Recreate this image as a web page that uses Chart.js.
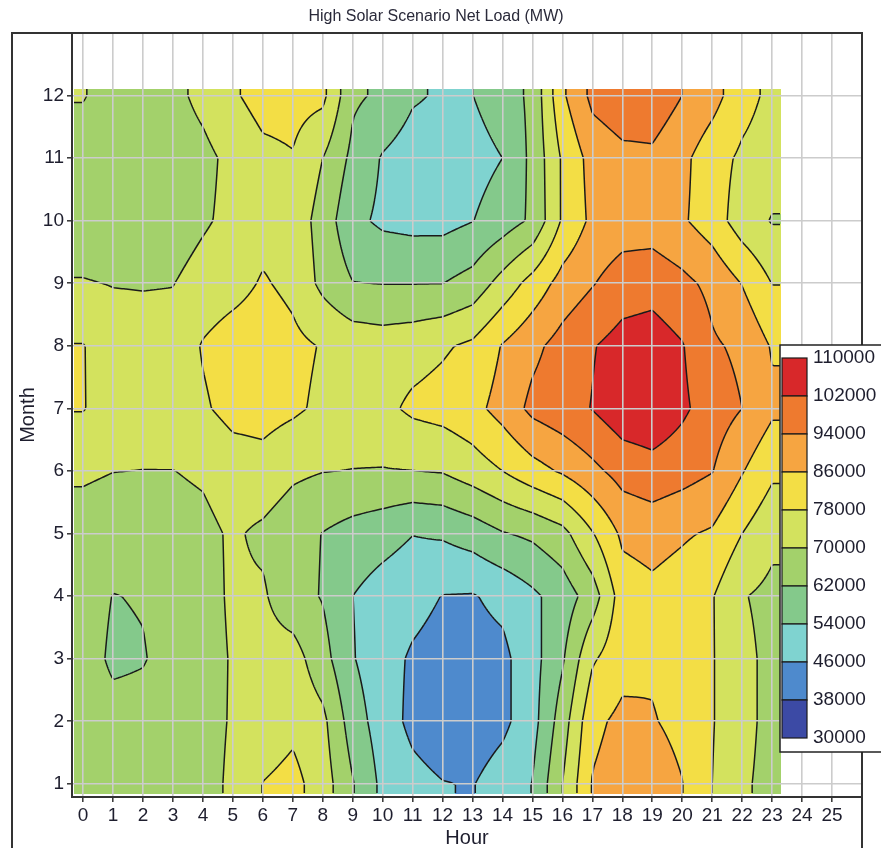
<!DOCTYPE html>
<html>
<head>
<meta charset="utf-8">
<title>High Solar Scenario Net Load</title>
<script src="https://cdn.jsdelivr.net/npm/chart.js@4.4.1/dist/chart.umd.min.js"></script>
<style>
  html, body { margin: 0; padding: 0; background: #ffffff; }
  #wrap { width: 881px; height: 850px; }
</style>
</head>
<body>
<div id="wrap"><canvas id="graphCanvas" width="881" height="850"></canvas></div>
<script>
// hours on x, months on y
var hours = [0, 1, 2, 3, 4, 5, 6, 7, 8, 9, 10, 11, 12, 13, 14, 15, 16, 17, 18, 19, 20, 21, 22, 23];
var months = [1, 2, 3, 4, 5, 6, 7, 8, 9, 10, 11, 12];
var xTicks = [0, 1, 2, 3, 4, 5, 6, 7, 8, 9, 10, 11, 12, 13, 14, 15, 16, 17, 18, 19, 20, 21, 22, 23, 24, 25, 26];
var yTicks = [1, 2, 3, 4, 5, 6, 7, 8, 9, 10, 11, 12, 13];
var levels = [30000, 38000, 46000, 54000, 62000, 70000, 78000, 86000, 94000, 102000, 110000];

// net load (MW) per month, hour 0..23
var jan = [66000, 65500, 65500, 66000, 68000, 71000, 78200, 80500, 74000, 62500, 52000, 48500, 46300, 45600, 50000, 54200, 70000, 86500, 90000, 90000, 86200, 78000, 71000, 68000];
var feb = [66000, 65000, 65000, 65500, 68000, 70500, 73000, 76000, 72000, 58000, 50000, 44000, 41000, 41000, 44000, 51000, 66000, 84000, 88000, 86500, 84000, 78500, 72000, 68000];
var mar = [66000, 60500, 61500, 65000, 67500, 70500, 73000, 73500, 65000, 54500, 49000, 45000, 43000, 43000, 44000, 51000, 61000, 77000, 83000, 85000, 83000, 78500, 72000, 68000];
var apr = [66000, 61800, 62500, 65000, 67500, 71000, 71000, 65000, 61500, 54000, 50500, 48500, 45800, 45500, 48000, 52500, 57500, 66000, 82000, 84000, 82000, 78500, 70500, 68000];
var may = [67000, 66000, 66500, 67000, 68000, 71000, 68500, 65000, 61800, 59000, 57000, 54200, 55000, 57500, 61500, 63500, 67500, 77500, 87500, 89000, 87000, 85000, 78000, 72000];
var jun = [71000, 70100, 69900, 69900, 71000, 74000, 75000, 71500, 70200, 69800, 69600, 69900, 70500, 74000, 78000, 83000, 87000, 92000, 97000, 99000, 97000, 94300, 86500, 79500];
var jul = [78400, 74000, 74000, 75000, 77000, 80500, 81000, 79300, 76500, 75000, 76000, 79500, 81000, 83500, 89000, 96000, 99000, 102300, 107000, 108000, 103500, 98000, 94000, 87500];
var aug = [78300, 74000, 73500, 73000, 78600, 82000, 83000, 80000, 77500, 75000, 74000, 75000, 77000, 79500, 86500, 92000, 97000, 101500, 105000, 106000, 102500, 95000, 92500, 85300];
var sep = [70500, 69700, 69500, 69800, 73000, 75000, 78800, 76000, 68000, 62200, 61800, 61800, 61900, 65000, 73000, 81000, 89000, 93500, 98000, 99000, 96000, 92000, 85700, 77800];
var oct = [65000, 64000, 64000, 66000, 69000, 72000, 75000, 75000, 66700, 56000, 52500, 51500, 51500, 53800, 58000, 63300, 79000, 87800, 90000, 90000, 87000, 82000, 74000, 69500];
var nov = [66000, 65500, 65000, 66000, 68000, 72000, 76000, 77500, 70000, 60000, 53300, 50000, 50000, 51000, 54000, 64000, 79000, 89000, 92000, 92500, 88000, 81300, 76600, 74000];
var dec = [70500, 66500, 66000, 68000, 72000, 77000, 81000, 81000, 80000, 63300, 60700, 55000, 53000, 53900, 58000, 63700, 84700, 96000, 99000, 99000, 94000, 89000, 81000, 76000];

var grid = [jan, feb, mar, apr, may, jun, jul, aug, sep, oct, nov, dec];

// band colours, low to high
var bandColors = ['#3c4aa5', '#4e8acd', '#7fd3d0', '#84c98b', '#a3d16b', '#d3e25e', '#f3de45', '#f6a541', '#ee7a2f', '#d8282a'];
var fieldExtent = { hMin: -0.3, hMax: 23.3, mMin: 0.84, mMax: 12.1 };
var textFont = 'Arial, "Liberation Sans", sans-serif';

function hexRgb(hex) {
    return [parseInt(hex.substr(1, 2), 16), parseInt(hex.substr(3, 2), 16), parseInt(hex.substr(5, 2), 16)];
}
var bandRgb = bandColors.map(hexRgb);

function valueAt(h, m) {
    var fh = Math.min(Math.max(h, hours[0]), hours[hours.length - 1]);
    var fm = Math.min(Math.max(m, months[0]), months[months.length - 1]);
    var i = Math.min(Math.floor(fh - hours[0]), hours.length - 2);
    var j = Math.min(Math.floor(fm - months[0]), months.length - 2);
    var tx = fh - hours[i], ty = fm - months[j];
    var a = grid[j][i], b = grid[j][i + 1], c = grid[j + 1][i], d = grid[j + 1][i + 1];
    return a * (1 - tx) * (1 - ty) + b * tx * (1 - ty) + c * (1 - tx) * ty + d * tx * ty;
}

function bandOf(v) {
    for (var k = levels.length - 2; k >= 0; k--) {
        if (v >= levels[k]) return k;
    }
    return 0;
}

var points = [];
for (var j = 0; j < months.length; j++) {
    for (var i = 0; i < hours.length; i++) {
        points.push({ x: hours[i], y: months[j], v: grid[j][i] });
    }
}

var contourPlugin = {
    id: 'contour',
    beforeDraw: function (chart) {
        var ctx = chart.ctx;
        var xs = chart.scales.x, ys = chart.scales.y;
        var x0 = Math.round(xs.getPixelForValue(fieldExtent.hMin));
        var x1 = Math.round(xs.getPixelForValue(fieldExtent.hMax));
        var y0 = Math.round(ys.getPixelForValue(fieldExtent.mMax));
        var y1 = Math.round(ys.getPixelForValue(fieldExtent.mMin));
        var w = x1 - x0, h = y1 - y0;

        // filled bands
        var off = document.createElement('canvas');
        off.width = w; off.height = h;
        var octx = off.getContext('2d');
        var img = octx.createImageData(w, h);
        for (var py = 0; py < h; py++) {
            var mv = ys.getValueForPixel(y0 + py + 0.5);
            for (var px = 0; px < w; px++) {
                var hv = xs.getValueForPixel(x0 + px + 0.5);
                var rgb = bandRgb[bandOf(valueAt(hv, mv))];
                var idx = (py * w + px) * 4;
                img.data[idx] = rgb[0]; img.data[idx + 1] = rgb[1]; img.data[idx + 2] = rgb[2]; img.data[idx + 3] = 255;
            }
        }
        octx.putImageData(img, 0, 0);
        ctx.save();
        ctx.drawImage(off, x0, y0);

        // contour lines (marching squares on a fine pixel lattice)
        var step = 2;
        var nx = Math.floor(w / step) + 1, ny = Math.floor(h / step) + 1;
        var vals = new Float64Array(nx * ny);
        for (var b = 0; b < ny; b++) {
            var mm = ys.getValueForPixel(y0 + b * step);
            for (var a = 0; a < nx; a++) {
                vals[b * nx + a] = valueAt(xs.getValueForPixel(x0 + a * step), mm);
            }
        }
        ctx.beginPath();
        for (var L = 1; L < levels.length - 1; L++) {
            var lev = levels[L];
            for (var b2 = 0; b2 < ny - 1; b2++) {
                for (var a2 = 0; a2 < nx - 1; a2++) {
                    var v00 = vals[b2 * nx + a2], v10 = vals[b2 * nx + a2 + 1];
                    var v01 = vals[(b2 + 1) * nx + a2], v11 = vals[(b2 + 1) * nx + a2 + 1];
                    var pts = [];
                    var px0 = x0 + a2 * step, py0 = y0 + b2 * step;
                    if ((v00 < lev) !== (v10 < lev)) pts.push([px0 + step * (lev - v00) / (v10 - v00), py0]);
                    if ((v10 < lev) !== (v11 < lev)) pts.push([px0 + step, py0 + step * (lev - v10) / (v11 - v10)]);
                    if ((v01 < lev) !== (v11 < lev)) pts.push([px0 + step * (lev - v01) / (v11 - v01), py0 + step]);
                    if ((v00 < lev) !== (v01 < lev)) pts.push([px0, py0 + step * (lev - v00) / (v01 - v00)]);
                    if (pts.length >= 2) {
                        ctx.moveTo(pts[0][0], pts[0][1]);
                        ctx.lineTo(pts[1][0], pts[1][1]);
                        if (pts.length === 4) {
                            ctx.moveTo(pts[2][0], pts[2][1]);
                            ctx.lineTo(pts[3][0], pts[3][1]);
                        }
                    }
                }
            }
        }
        ctx.strokeStyle = '#1a1a1a';
        ctx.lineWidth = 1.5;
        ctx.stroke();
        ctx.restore();
    },
    afterDraw: function (chart) {
        var ctx = chart.ctx;
        var area = chart.chartArea;
        ctx.save();

        // outer frame
        ctx.strokeStyle = '#333333';
        ctx.lineWidth = 2;
        ctx.beginPath();
        ctx.moveTo(12, 848);
        ctx.lineTo(12, area.top);
        ctx.lineTo(area.right, area.top);
        ctx.lineTo(area.right, 848);
        ctx.stroke();

        // title
        ctx.fillStyle = '#2a2a3a';
        ctx.font = '16px ' + textFont;
        ctx.textAlign = 'center';
        ctx.textBaseline = 'middle';
        ctx.fillText('High Solar Scenario Net Load (MW)', 436, 17);

        // colour bar legend
        var lx = 780, ly = 345, sw = 25, sTop = 358, sh = 38;
        ctx.fillStyle = '#ffffff';
        ctx.fillRect(lx, ly, 110, 407);
        ctx.strokeStyle = '#222222';
        ctx.lineWidth = 1.5;
        ctx.strokeRect(lx, ly, 110, 407);
        var nb = levels.length - 1;
        for (var k = 0; k < nb; k++) {
            var band = nb - 1 - k;
            ctx.fillStyle = bandColors[band];
            ctx.fillRect(lx + 2, sTop + k * sh, sw, sh);
            ctx.strokeStyle = '#1a1a1a';
            ctx.lineWidth = 1.2;
            ctx.strokeRect(lx + 2, sTop + k * sh, sw, sh);
        }
        ctx.fillStyle = '#1e1e2e';
        ctx.font = '19px ' + textFont;
        ctx.textAlign = 'left';
        ctx.textBaseline = 'middle';
        for (var q = 0; q < levels.length; q++) {
            ctx.fillText(String(levels[levels.length - 1 - q]), 813, sTop + q * sh);
        }
        ctx.restore();
    }
};

var graphTarget = document.getElementById('graphCanvas');

var heatChart = new Chart(graphTarget, {
    type: 'scatter',
    data: {
        datasets: [{
            label: 'Net Load',
            data: points,
            pointRadius: 0,
            pointHoverRadius: 0
        }]
    },
    options: {
        responsive: false,
        animation: false,
        events: [],
        layout: { padding: { left: 0, top: 33, right: 19, bottom: 0 } },
        plugins: {
            legend: { display: false },
            tooltip: { enabled: false },
            title: { display: false }
        },
        scales: {
            x: {
                type: 'linear',
                min: -0.37,
                max: 26,
                afterBuildTicks: function (s) { s.ticks = xTicks.map(function (v) { return { value: v }; }); },
                afterFit: function (s) { s.height = 53; },
                ticks: {
                    autoSkip: false,
                    maxRotation: 0,
                    padding: 2,
                    color: '#1e1e2e',
                    font: { size: 19, family: textFont },
                    callback: function (v) { return v === 26 ? '' : String(v); }
                },
                grid: { color: '#cccccc', lineWidth: 1.6, tickColor: '#333333', tickLength: 5, tickWidth: 1.5 },
                border: { display: true, color: '#333333', width: 2 },
                title: { display: true, text: 'Hour', color: '#1e1e2e', font: { size: 20, family: textFont }, padding: { top: 0, bottom: 0 } }
            },
            y: {
                type: 'linear',
                min: 0.79,
                max: 13,
                afterBuildTicks: function (s) { s.ticks = yTicks.map(function (v) { return { value: v }; }); },
                afterFit: function (s) { s.width = 72; },
                ticks: {
                    autoSkip: false,
                    padding: 3,
                    color: '#1e1e2e',
                    font: { size: 19, family: textFont },
                    callback: function (v) { return v === 13 ? '' : String(v); }
                },
                grid: { color: '#cccccc', lineWidth: 1.6, tickColor: '#333333', tickLength: 5, tickWidth: 1.5 },
                border: { display: true, color: '#333333', width: 2 },
                title: { display: true, text: 'Month', color: '#1e1e2e', font: { size: 20, family: textFont }, padding: { top: 16, bottom: 0 } }
            }
        }
    },
    plugins: [contourPlugin]
});
</script>
</body>
</html>
